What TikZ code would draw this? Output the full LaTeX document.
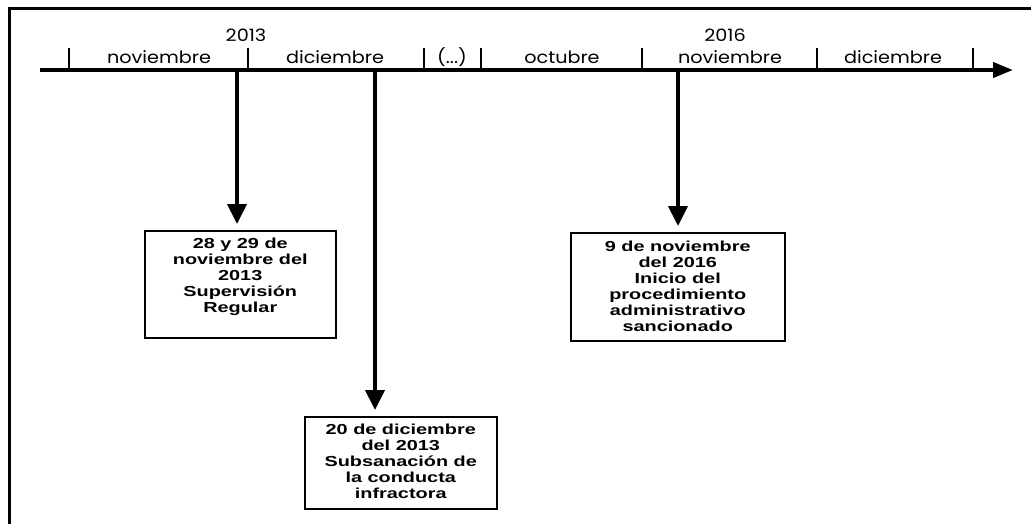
\documentclass[tikz,border=0pt]{standalone}
\usepackage{fontspec}
\setmainfont{Liberation Sans}
\newfontfamily\monthfont{Poppins}[FakeStretch=1.13]
\newfontfamily\boxfont{Liberation Sans}[FakeStretch=1.37]
\usetikzlibrary{arrows.meta}
\begin{document}
\begin{tikzpicture}[x=1pt,y=-1pt,
 frame/.style={line width=3pt},
 axisline/.style={line width=4pt, -{Triangle[length=20pt,width=15pt]}},
 tickmark/.style={line width=1.5pt},
 lab/.style={font=\monthfont\fontsize{17}{19}\selectfont, inner sep=0pt, anchor=base},
 evbox/.style={draw, line width=1.5pt, inner sep=0pt, anchor=north west,
   font=\boxfont\bfseries\fontsize{14.5}{16}\selectfont},
 evarrow/.style={line width=4pt, shorten >=6pt, -{Triangle[length=20pt,width=19pt]}},
]
\useasboundingbox (0,0) rectangle (1031,524);
\begin{scope}
\clip (0,0) rectangle (1031,524);
\draw[frame] (9,9) rectangle (1045,540);
\end{scope}
% axis
\coordinate (as) at (40,70);
\coordinate (ae) at (1013,70);
\draw[axisline] (as) -- (ae);
\foreach \x in {69,248,424,481,642,817,973}
  \draw[tickmark] (\x,48) -- (\x,70);
% labels
\node[lab] (y1) at (246,42) {2013};
\node[lab] (y2) at (725,42) {2016};
\node[lab] (m1) at (159,64) {noviembre};
\node[lab] (m2) at (335,64) {diciembre};
\node[lab] (m3) at (452,64) {(...)};
\node[lab] (m4) at (562,64) {octubre};
\node[lab] (m5) at (730,64) {noviembre};
\node[lab] (m6) at (893,64) {diciembre};
% boxes
\node[evbox] (b1) at (144,230) {\parbox[t][107pt][t]{191pt}{\centering\vspace*{7pt}%
28 y 29 de\\ noviembre del\\ 2013\\ Supervisión\\ Regular}};
\node[evbox] (b2) at (304,416) {\parbox[t][92pt][t]{192pt}{\centering\vspace*{7pt}%
20 de diciembre\\ del 2013\\ Subsanación de\\ la conducta\\ infractora}};
\node[evbox] (b3) at (570,232) {\parbox[t][108pt][t]{214pt}{\centering\vspace*{8pt}%
9 de noviembre\\ del 2016\\ Inicio del\\ procedimiento\\ administrativo\\ sancionado}};
% event arrows
\coordinate (p1) at (237,70);
\coordinate (p2) at (375,70);
\coordinate (p3) at (678,70);
\draw[evarrow] (p1) -- (p1 |- b1.north);
\draw[evarrow] (p2) -- (p2 |- b2.north);
\draw[evarrow] (p3) -- (p3 |- b3.north);
\end{tikzpicture}
\end{document}
